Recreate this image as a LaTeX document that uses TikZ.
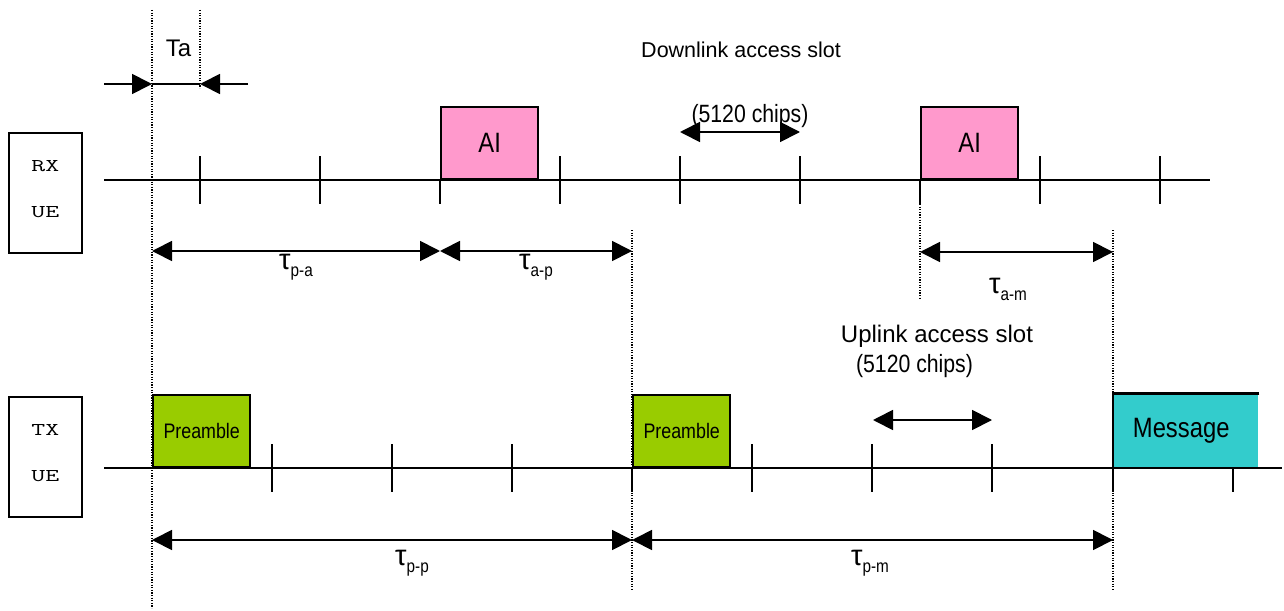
\documentclass[tikz,border=0pt]{standalone}
\usepackage{fontspec}
\usepackage{graphicx}
\setmainfont{Liberation Sans}
\newfontfamily\narrowfont[FakeStretch=0.85]{Liberation Sans}
\usetikzlibrary{arrows.meta}
\definecolor{aipink}{HTML}{FF99CC}
\definecolor{pregreen}{HTML}{99CC00}
\definecolor{msgcyan}{HTML}{33CCCC}
\newcommand{\fsz}[1]{\fontsize{#1}{#1}\selectfont}
\newcommand{\wide}[1]{\scalebox{1.5}[1]{#1}}
\newcommand{\tlab}[1]{{\fsz{29}τ}\raisebox{-7pt}{\narrowfont\fsz{18}#1}}
\begin{document}
\begin{tikzpicture}[x=1pt, y=-1pt, >={Triangle[length=20pt,width=20pt]},
	axis/.style={line width=1.8pt},
	tick/.style={line width=1.8pt},
	guide/.style={line width=1.2pt, dash pattern=on 1.2pt off 1.4pt},
	dim/.style={line width=1.8pt},
	uebox/.style={draw, line width=1.8pt, minimum width=73pt, minimum height=120pt, inner sep=0pt, anchor=north west, align=center, font=\ttfamily\fontsize{18}{46}\selectfont},
	slot/.style={draw, line width=2.4pt, minimum width=97pt, minimum height=72pt, inner sep=0pt, anchor=south west}]
	\useasboundingbox (0,0) rectangle (1284,610);
	\def \yrx{180} %RX line
	\def \ytx{468} %TX line
	%Guides
	\draw[guide] (152,10)--(152,608);
	\draw[guide] (200,10)--(200,88);
	\draw[guide] (632,230)--(632,590);
	\draw[guide] (920,204)--(920,300);
	\draw[guide] (1113,230)--(1113,590);
	%UE boxes
	\node[uebox] (rx) at (8,132) {\wide{RX}\\\wide{UE}\\[-38pt]};
	\node[uebox] (tx) at (8,396) {\wide{TX}\\\wide{UE}\\[-38pt]};
	%Time lines
	\draw[axis] (104,\yrx)--(1210,\yrx);
	\draw[axis] (104,\ytx)--(1282,\ytx);
	\foreach \x in {200,320,560,680,800,1040,1160}
	\draw[tick] (\x,\yrx-24)--(\x,\yrx+24);
	\foreach \x in {440,920}
	\draw[tick] (\x,\yrx)--(\x,\yrx+24);
	\foreach \x in {272,392,512,752,872,992}
	\draw[tick] (\x,\ytx-24)--(\x,\ytx+24);
	\foreach \x in {632,1113,1233}
	\draw[tick] (\x,\ytx)--(\x,\ytx+24);
	%Slots
	\node[slot, fill=aipink, font=\narrowfont\fsz{28}] (ai1) at (440,\yrx) {AI};
	\node[slot, fill=aipink, font=\narrowfont\fsz{28}] (ai2) at (920,\yrx) {AI};
	\node[slot, fill=pregreen, font=\narrowfont\fsz{21}] (pre1) at (152,\ytx) {Preamble};
	\node[slot, draw=none, fill=msgcyan, minimum width=144pt, font=\narrowfont\fsz{28}] (msg) at (1113,\ytx) {Message\hspace*{10pt}};
	\node[slot, fill=pregreen, font=\narrowfont\fsz{21}] (pre2) at (632,\ytx) {Preamble};
	\draw[line width=2.4pt] (msg.north east)--(msg.north west)--(msg.south west)--(msg.south east);
	%Ta
	\coordinate (ta-a) at (104,84);
	\coordinate (ta-l) at (152,84);
	\coordinate (ta-r) at (200,84);
	\coordinate (ta-b) at (248,84);
	\draw[dim,->] (ta-a)--(ta-l);
	\draw[dim] (ta-l)--(ta-r);
	\draw[dim,->] (ta-b)--(ta-r);
	\node[font=\fsz{24}] (ta) at (178.5,48) {Ta};
	%Access slots
	\coordinate (dl-a) at (680,132);
	\coordinate (dl-b) at (800,132);
	\draw[dim,<->] (dl-a)--(dl-b);
	\node[font=\fsz{21.5}] (dl) at (741,50) {Downlink access slot};
	\node[font=\narrowfont\fsz{25}] (dlc) at (750,116.5) {(5120 chips)};
	\coordinate (ul-a) at (873,420);
	\coordinate (ul-b) at (992,420);
	\draw[dim,<->] (ul-a)--(ul-b);
	\node[font=\fsz{24}] (ul) at (937,336.5) {Uplink access slot};
	\node[font=\narrowfont\fsz{25}] (ulc) at (914.5,366) {(5120 chips)};
	%Delays
	\coordinate (p0) at (152,251);
	\coordinate (p1) at (440,251);
	\coordinate (p2) at (632,251);
	\coordinate (m0) at (920,252);
	\coordinate (m1) at (1113,252);
	\coordinate (q0) at (152,540);
	\coordinate (q1) at (632,540);
	\coordinate (q2) at (1113,540);
	\draw[dim,<->] (p0)--(p1);
	\draw[dim,<->] (p1)--(p2);
	\draw[dim,<->] (m0)--(m1);
	\draw[dim,<->] (q0)--(q1);
	\draw[dim,<->] (q1)--(q2);
	\node (tpa) at (296,267.5) {\tlab{p-a}};
	\node (tap) at (536,267.5) {\tlab{a-p}};
	\node (tam) at (1008,289.5) {\tlab{a-m}};
	\node (tpp) at (412,563.5) {\tlab{p-p}};
	\node (tpm) at (870,563.5) {\tlab{p-m}};
\end{tikzpicture}
\end{document}
